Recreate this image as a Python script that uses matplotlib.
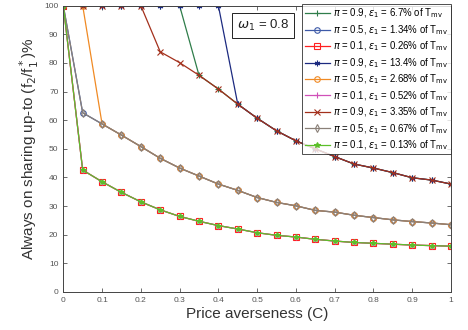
import numpy as np
import matplotlib
matplotlib.use("Agg")
import matplotlib.pyplot as plt

C = [round(0.05 * i, 2) for i in range(21)]

upper = [100, 100, 100, 100, 100, 83.9, 80.1, 75.7, 70.9, 65.6, 60.7, 56.3, 52.8, 50.0,
         47.3, 44.7, 43.3, 41.7, 39.9, 39.1, 37.7]
middle = [100, 62.6, 58.7, 54.8, 50.8, 46.7, 43.3, 40.5, 37.7, 35.5, 33.0, 31.3, 30.1, 28.5,
          27.9, 26.8, 26.0, 25.2, 24.6, 24.1, 23.5]
lower = [100, 42.6, 38.5, 34.8, 31.5, 28.7, 26.4, 24.7, 23.2, 22.0, 20.7, 19.8, 19.2, 18.4,
         17.8, 17.3, 17.0, 16.7, 16.4, 16.2, 16.0]

s1 = [100] * 7 + upper[7:]          # pi=0.9, 6.7%
s2 = middle[:]                       # pi=0.5, 1.34%
s3 = lower[:]                        # pi=0.1, 0.26%
s4 = [100] * 9 + upper[9:]          # pi=0.9, 13.4%
s5 = [100] * 2 + middle[2:]         # pi=0.5, 2.68%
s6 = lower[:]                        # pi=0.1, 0.52%
s7 = upper[:]                        # pi=0.9, 3.35%
s8 = middle[:]                       # pi=0.5, 0.67%
s9 = lower[:]                        # pi=0.1, 0.13%

labels = [
    r"$\pi$ = 0.9, $\epsilon_1$ = 6.7% of T$_\mathrm{mv}$",
    r"$\pi$ = 0.5, $\epsilon_1$ = 1.34% of T$_\mathrm{mv}$",
    r"$\pi$ = 0.1, $\epsilon_1$ = 0.26% of T$_\mathrm{mv}$",
    r"$\pi$ = 0.9, $\epsilon_1$ = 13.4% of T$_\mathrm{mv}$",
    r"$\pi$ = 0.5, $\epsilon_1$ = 2.68% of T$_\mathrm{mv}$",
    r"$\pi$ = 0.1, $\epsilon_1$ = 0.52% of T$_\mathrm{mv}$",
    r"$\pi$ = 0.9, $\epsilon_1$ = 3.35% of T$_\mathrm{mv}$",
    r"$\pi$ = 0.5, $\epsilon_1$ = 0.67% of T$_\mathrm{mv}$",
    r"$\pi$ = 0.1, $\epsilon_1$ = 0.13% of T$_\mathrm{mv}$",
]
series = [s1, s2, s3, s4, s5, s6, s7, s8, s9]
colors = ["#2f7d4a", "#3e5aa8", "#ff2020", "#1c2a80", "#f08a24", "#d050b8", "#a3301c",
          "#8a8078", "#5cbf2a"]
markers = ["+", "o", "s", (6, 2, 0), "o", "+", "x", "d", "*"]
filled = [False, False, False, False, False, False, False, False, True]

plt.rcParams['font.family'] = ['Liberation Sans', 'DejaVu Sans']
plt.rcParams['mathtext.fontset'] = 'dejavusans'

fig = plt.figure(figsize=(4.68, 3.30), dpi=100)
ax = fig.add_axes([63.3 / 468, 1 - 292 / 330, (451 - 63.3) / 468, (292 - 5.7) / 330])

for y, c, m, f, lab in zip(series, colors, markers, filled, labels):
    ax.plot(C, y, color=c, marker=m, markersize=4, markerfacecolor=c if f else 'none',
            markeredgewidth=0.8, linewidth=0.9, label=lab)

ax.set_xlim(0, 1)
ax.set_ylim(0, 100)
ax.set_xticks(np.arange(0, 1.01, 0.1))
ax.set_xticklabels(["0", "0.1", "0.2", "0.3", "0.4", "0.5", "0.6", "0.7", "0.8", "0.9", "1"])
ax.set_yticks(np.arange(0, 101, 10))
ax.tick_params(direction='in', length=3, labelsize=6, colors='#555555', top=True, right=True,
               width=0.6)
for sp in ax.spines.values():
    sp.set_color('#444444')
    sp.set_linewidth(0.7)

ax.set_xlabel("Price averseness (C)", fontsize=11, color='#333333', labelpad=2)
ax.set_ylabel(r"Always on sharing up-to (f$_2$/f$_1^*$)%", fontsize=11, color='#333333',
              labelpad=2)

leg = ax.legend(loc='upper right', fontsize=6.9, frameon=True, fancybox=False,
                edgecolor='#222222', handlelength=2.6, borderpad=0.25, labelspacing=0.3,
                borderaxespad=0.0, handletextpad=0.4, bbox_to_anchor=(1.0, 1.005))
leg.get_frame().set_linewidth(0.7)

ax.text(0.448, 0.93, r"$\omega_1$ = 0.8", transform=ax.transAxes, fontsize=9.5, va='center',
        ha='left', color='#222222',
        bbox=dict(boxstyle='square,pad=0.38', facecolor='white', edgecolor='#222222',
                  linewidth=0.7))

fig.savefig("out.png", dpi=100)
